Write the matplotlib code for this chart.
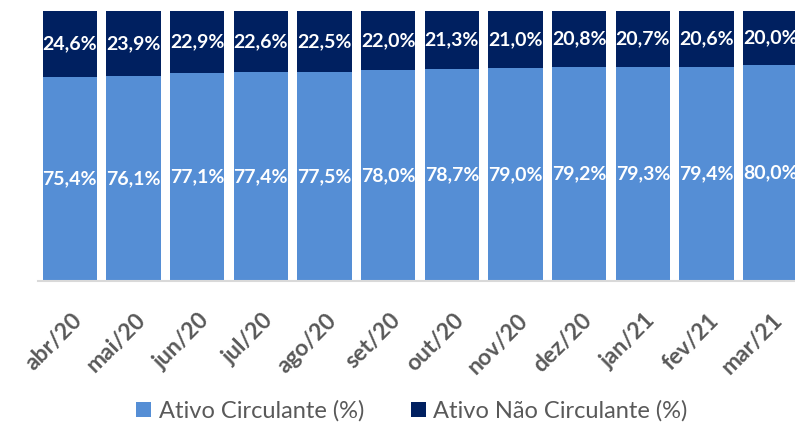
import matplotlib
matplotlib.use("Agg")
import matplotlib.pyplot as plt
import matplotlib.transforms as mtransforms
from matplotlib.patches import Patch
import numpy as np

categories = ["abr/20", "mai/20", "jun/20", "jul/20", "ago/20", "set/20",
              "out/20", "nov/20", "dez/20", "jan/21", "fev/21", "mar/21"]
circulante = [75.4, 76.1, 77.1, 77.4, 77.5, 78.0, 78.7, 79.0, 79.2, 79.3, 79.4, 80.0]
nao_circulante = [24.6, 23.9, 22.9, 22.6, 22.5, 22.0, 21.3, 21.0, 20.8, 20.7, 20.6, 20.0]

c_light = "#558ED5"
c_dark = "#002060"
txt_gray = "#595959"

plt.rcParams['font.family'] = ['Lato', 'DejaVu Sans']

fig = plt.figure(figsize=(7.95, 4.22), dpi=100)
ax = fig.add_axes([38/795, 1 - 281/422, 1 - 38/795, 270/422])

x = np.arange(len(categories))
w = 0.85
ax.bar(x, circulante, w, color=c_light, edgecolor='none')
ax.bar(x, nao_circulante, w, bottom=circulante, color=c_dark, edgecolor='none')

for i in range(len(categories)):
    ax.text(x[i], circulante[i] / 2, f"{circulante[i]:.1f}%".replace('.', ','),
            ha='center', va='center', color='white', fontsize=14, fontweight='bold')
    ax.text(x[i], circulante[i] + nao_circulante[i] / 2,
            f"{nao_circulante[i]:.1f}%".replace('.', ','),
            ha='center', va='center', color='white', fontsize=14, fontweight='bold')

ax.set_xlim(-0.5, 11.39)
ax.set_ylim(0, 100)
ax.set_yticks([])
ax.set_xticks(x)
ax.set_xticklabels(categories, rotation=45, ha='right', va='center',
                   rotation_mode='anchor', fontsize=16.5, fontweight='bold', color=txt_gray)
ax.tick_params(axis='x', length=0, pad=26)
offset = mtransforms.ScaledTranslation(9/100, 0, fig.dpi_scale_trans)
for lbl in ax.get_xticklabels():
    lbl.set_transform(lbl.get_transform() + offset)
for s in ['top', 'right', 'left']:
    ax.spines[s].set_visible(False)
ax.spines['bottom'].set_color('#D9D9D9')
ax.spines['bottom'].set_linewidth(1.5)
ax.set_facecolor('none')

handles = [Patch(facecolor=c_light, label='Ativo Circulante (%)'),
           Patch(facecolor=c_dark, label='Ativo Não Circulante (%)')]
fig.legend(handles=handles, loc='center', bbox_to_anchor=(412/795, 1 - 411/422),
           ncol=2, frameon=False, fontsize=17, labelcolor=txt_gray,
           handlelength=0.64, handleheight=0.64, handletextpad=0.3, columnspacing=2.0,
           borderpad=0, borderaxespad=0)

fig.savefig("out.png", dpi=100)
